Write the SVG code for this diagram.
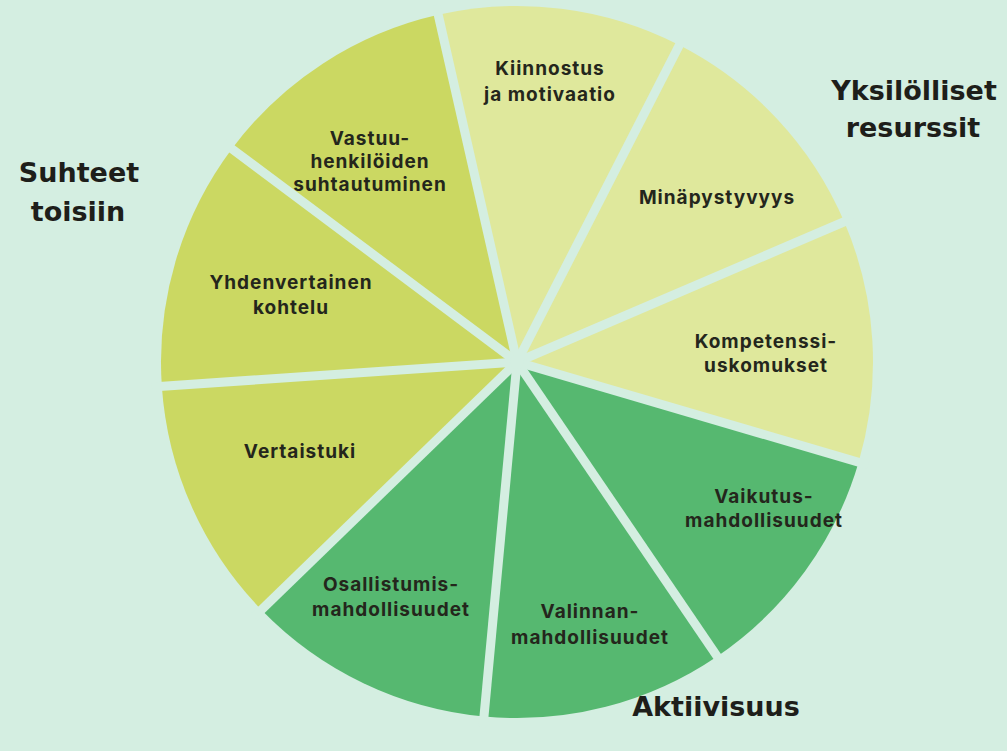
<svg xmlns="http://www.w3.org/2000/svg" width="1007" height="751" viewBox="0 0 1007 751">
<style>
.bg{fill:#d4eee1}
.pale{fill:#dfe89c}
.mid{fill:#cbd862}
.grn{fill:#56b870}
.gap{stroke:#d4eee1;stroke-width:9;stroke-linecap:butt}
.lbl{font-family:Inter,"Noto Sans",sans-serif;font-weight:700;font-size:19px;fill:#24261c;text-anchor:middle;letter-spacing:1px}
.ttl{font-family:"DejaVu Sans",sans-serif;font-weight:bold;font-size:27px;fill:#1e1e1a;text-anchor:middle}
</style>
<rect class="bg" x="0" y="0" width="1007" height="751"/>
<g id="wedge-kiinnostus">
<path class="pale" d="M517 362 L438.13 14.85 A356 356 0 0 1 679.17 45.09 Z"/>
<text class="lbl" x="550" y="75">Kiinnostus</text>
<text class="lbl" x="550" y="101">ja motivaatio</text>
</g>
<g id="wedge-minapystyvyys">
<path class="pale" d="M517 362 L679.17 45.09 A356 356 0 0 1 844.21 221.76 Z"/>
<text class="lbl" x="717" y="204">Minäpystyvyys</text>
</g>
<g id="wedge-kompetenssi">
<path class="pale" d="M517 362 L844.21 221.76 A356 356 0 0 1 858.69 461.92 Z"/>
<text class="lbl" x="766" y="348">Kompetenssi-</text>
<text class="lbl" x="766" y="372">uskomukset</text>
</g>
<g id="wedge-vaikutus">
<path class="grn" d="M517 362 L858.69 461.92 A356 356 0 0 1 717.10 656.44 Z"/>
<text class="lbl" x="764" y="503">Vaikutus-</text>
<text class="lbl" x="764" y="527">mahdollisuudet</text>
</g>
<g id="wedge-valinnan">
<path class="grn" d="M517 362 L717.10 656.44 A356 356 0 0 1 484.12 716.48 Z"/>
<text class="lbl" x="590" y="618">Valinnan-</text>
<text class="lbl" x="590" y="644">mahdollisuudet</text>
</g>
<g id="wedge-osallistumis">
<path class="grn" d="M517 362 L484.12 716.48 A356 356 0 0 1 261.78 610.19 Z"/>
<text class="lbl" x="391" y="591">Osallistumis-</text>
<text class="lbl" x="391" y="616">mahdollisuudet</text>
</g>
<g id="wedge-vertaistuki">
<path class="mid" d="M517 362 L261.78 610.19 A356 356 0 0 1 161.83 386.22 Z"/>
<text class="lbl" x="300" y="458">Vertaistuki</text>
</g>
<g id="wedge-yhdenvertainen">
<path class="mid" d="M517 362 L161.83 386.22 A356 356 0 0 1 231.94 148.75 Z"/>
<text class="lbl" x="291" y="289">Yhdenvertainen</text>
<text class="lbl" x="291" y="314">kohtelu</text>
</g>
<g id="wedge-vastuu">
<path class="mid" d="M517 362 L231.94 148.75 A356 356 0 0 1 438.13 14.85 Z"/>
<text class="lbl" x="370" y="145">Vastuu-</text>
<text class="lbl" x="370" y="168">henkilöiden</text>
<text class="lbl" x="370" y="191">suhtautuminen</text>
</g>
<g id="gaps">
<line class="gap" x1="517" y1="362" x2="436" y2="5"/>
<line class="gap" x1="517" y1="362" x2="684" y2="36"/>
<line class="gap" x1="517" y1="362" x2="853" y2="218"/>
<line class="gap" x1="517" y1="362" x2="868" y2="465"/>
<line class="gap" x1="517" y1="362" x2="723" y2="665"/>
<line class="gap" x1="517" y1="362" x2="483" y2="727"/>
<line class="gap" x1="517" y1="362" x2="254" y2="617"/>
<line class="gap" x1="517" y1="362" x2="152" y2="387"/>
<line class="gap" x1="517" y1="362" x2="224" y2="143"/>
<circle cx="517" cy="362" r="7" fill="#d4eee1"/>
</g>
<g id="titles">
<text class="ttl" x="79" y="182">Suhteet</text>
<text class="ttl" x="78" y="221">toisiin</text>
<text class="ttl" x="914" y="100">Yksilölliset</text>
<text class="ttl" x="913" y="137">resurssit</text>
<text class="ttl" x="716" y="716">Aktiivisuus</text>
</g>
</svg>
